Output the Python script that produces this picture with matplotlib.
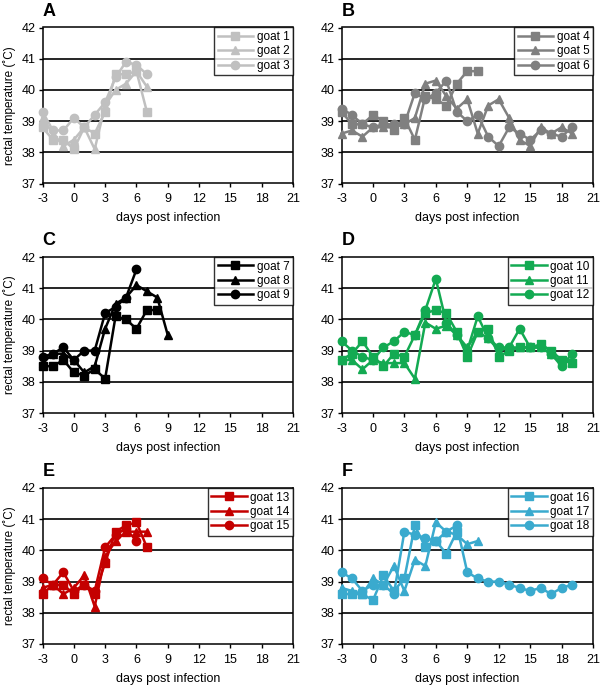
import matplotlib
matplotlib.use("Agg")
import matplotlib.pyplot as plt

plt.rcParams['font.family'] = ['Liberation Sans', 'DejaVu Sans']
plt.rcParams['axes.unicode_minus'] = False

# ---- data (rectal temperature per day post infection, starting day -3) ----
goat1 = [38.8, 38.4, 38.4, 38.1, 38.8, 38.6, 39.3, 40.5, 40.5, 40.6, 39.3]
goat2 = [39.1, 38.6, 38.2, 38.4, 38.8, 38.1, 39.5, 40.0, 40.2, 40.6, 40.1]
goat3 = [39.3, 38.7, 38.7, 39.1, 38.8, 39.2, 39.6, 40.4, 40.9, 40.8, 40.5]

goat4 = [39.3, 38.9, 38.9, 39.2, 39.0, 38.7, 39.1, 38.4, 39.8, 39.7, 39.5, 40.2, 40.6, 40.6]
goat5 = [38.6, 38.7, 38.5, 38.8, 38.8, 38.8, 38.9, 39.1, 40.2, 40.3, 39.8, 39.4, 39.7,
         38.6, 39.5, 39.7, 39.1, 38.4, 38.2, 38.8, 38.6, 38.8, 38.6]
goat6 = [39.4, 39.2, 38.9, 38.8, 38.9, 38.9, 38.9, 39.9, 39.7, 39.9, 40.3, 39.3, 39.0,
         39.2, 38.5, 38.2, 38.8, 38.6, 38.4, 38.7, 38.6, 38.5, 38.8]

goat7 = [38.5, 38.5, 38.7, 38.3, 38.2, 38.4, 38.1, 40.1, 40.0, 39.7, 40.3, 40.3]
goat8 = [38.6, 38.9, 38.9, 38.7, 38.3, 38.5, 39.7, 40.5, 40.7, 41.1, 40.9, 40.7, 39.5]
goat9 = [38.8, 38.9, 39.1, 38.7, 39.0, 39.0, 40.2, 40.4, 40.7, 41.6]

goat10 = [38.7, 38.9, 39.3, 38.8, 38.5, 38.9, 38.8, 39.5, 40.2, 40.3, 40.2, 39.6, 38.8,
          39.6, 39.7, 38.8, 39.0, 39.1, 39.1, 39.2, 39.0, 38.7, 38.6]
goat11 = [38.7, 38.7, 38.4, 38.7, 38.6, 38.6, 38.6, 38.1, 39.9, 39.7, 39.8, 39.5, 39.1,
          39.6, 39.4, 39.0, 39.1, 39.1, 39.1, 39.1, 38.9, 38.6, 38.7]
goat12 = [39.3, 39.0, 38.8, 38.7, 39.1, 39.3, 39.6, 39.5, 40.3, 41.3, 39.9, 39.5, 39.0,
          40.1, 39.4, 39.1, 39.1, 39.7, 39.1, 39.1, 38.9, 38.5, 38.9]

goat13 = [38.6, 38.9, 38.9, 38.6, 38.9, 38.6, 39.6, 40.6, 40.8, 40.9, 40.1]
goat14 = [38.8, 38.9, 38.6, 38.8, 39.2, 38.2, 39.8, 40.3, 40.6, 40.6, 40.6]
goat15 = [39.1, 38.9, 39.3, 38.7, 38.9, 38.7, 40.1, 40.5, 40.7, 40.3]

goat16 = [38.6, 38.6, 38.6, 38.4, 39.2, 38.7, 39.1, 40.8, 40.1, 40.3, 39.9, 40.6]
goat17 = [38.8, 38.7, 38.6, 39.1, 38.9, 39.5, 38.7, 39.7, 39.5, 40.9, 40.6, 40.5, 40.2, 40.3]
goat18 = [39.3, 39.1, 38.7, 38.9, 38.9, 38.6, 40.6, 40.5, 40.4, 40.3, 40.6, 40.8, 39.3,
          39.1, 39.0, 39.0, 38.9, 38.8, 38.7, 38.8, 38.6, 38.8, 38.9]

first_day = -3
x_ticks = [-3, 0, 3, 6, 9, 12, 15, 18, 21]
y_ticks = [37, 38, 39, 40, 41, 42]
panel_letters = ["A", "B", "C", "D", "E", "F"]
panel_colors = ["#C0C0C0", "#808080", "#000000", "#13AA52", "#C40000", "#3AAACE"]
panel_series = [
    [("goat 1", goat1), ("goat 2", goat2), ("goat 3", goat3)],
    [("goat 4", goat4), ("goat 5", goat5), ("goat 6", goat6)],
    [("goat 7", goat7), ("goat 8", goat8), ("goat 9", goat9)],
    [("goat 10", goat10), ("goat 11", goat11), ("goat 12", goat12)],
    [("goat 13", goat13), ("goat 14", goat14), ("goat 15", goat15)],
    [("goat 16", goat16), ("goat 17", goat17), ("goat 18", goat18)],
]
markers = ["s", "^", "o"]

W, H = 600, 686
fig = plt.figure(figsize=(W / 100, H / 100), dpi=100)

# axes boxes in pixels: (left, top, right, bottom)
boxes = [
    (42.5, 27.5, 293, 183.5), (341.5, 27.5, 593, 183.5),
    (42.5, 257, 293, 413), (341.5, 257, 593, 413),
    (42.5, 488, 293, 644), (341.5, 488, 593, 644),
]

for i, (box, letter, color, series) in enumerate(zip(boxes, panel_letters, panel_colors, panel_series)):
    l, t, r, b = box
    ax = fig.add_axes([l / W, 1 - b / H, (r - l) / W, (b - t) / H])
    for (name, vals), m in zip(series, markers):
        days = list(range(first_day, first_day + len(vals)))
        ax.plot(days, vals, color=color, marker=m, markersize=6, linewidth=1.8,
                label=name, clip_on=False, zorder=3)
    ax.set_xlim(-3, 21)
    ax.set_ylim(37, 42)
    ax.set_xticks(x_ticks)
    ax.set_yticks(y_ticks)
    ax.tick_params(axis="x", direction="out", length=3, width=1, labelsize=9, pad=4, colors="black")
    ax.tick_params(axis="y", direction="out", length=3, width=1, labelsize=9, pad=2, colors="black")
    for yv in y_ticks[1:-1]:
        ax.axhline(yv, color="black", linewidth=1.2, zorder=1)
    for sp in ax.spines.values():
        sp.set_color("black")
        sp.set_linewidth(1.1)
    ax.set_xlabel("days post infection", fontsize=9, labelpad=5)
    if i % 2 == 0:
        ax.set_ylabel("rectal temperature (˚C)", fontsize=8.5, labelpad=4)
    ax.text(0.0, 1.05, letter, transform=ax.transAxes, fontsize=13, fontweight="bold",
            ha="left", va="bottom")
    leg = ax.legend(loc="upper right", fontsize=8.5, frameon=True, fancybox=False,
                    borderaxespad=0.0, handlelength=3.0, handletextpad=0.3,
                    labelspacing=0.2, borderpad=0.3)
    leg.get_frame().set_edgecolor("black")
    leg.get_frame().set_linewidth(1.0)
    leg.set_zorder(5)

fig.savefig("out.png", dpi=100)
